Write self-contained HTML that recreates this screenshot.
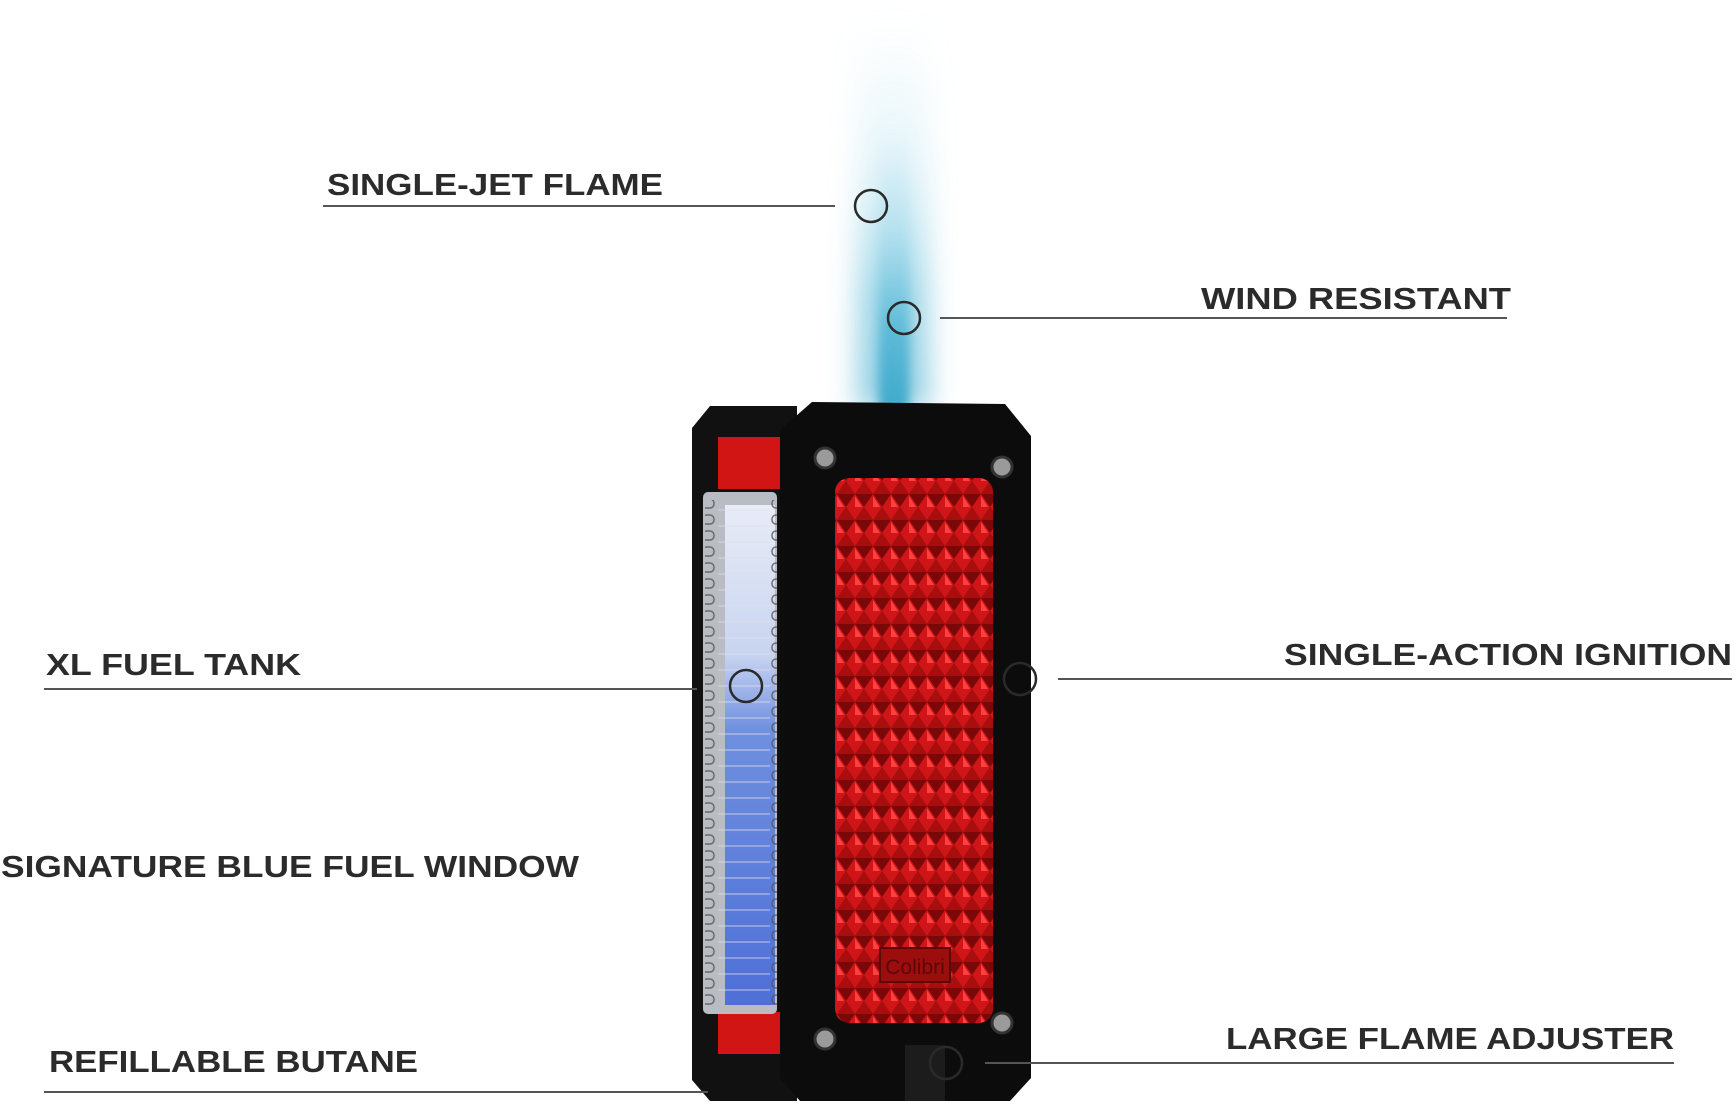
<!DOCTYPE html>
<html><head><meta charset="utf-8"><style>
html,body{margin:0;padding:0;background:#fff;width:1735px;height:1104px;overflow:hidden}
svg{display:block}
text{font-family:"Liberation Sans",sans-serif;font-weight:bold;fill:#2b2b2b;font-size:31px}
</style></head><body>
<svg width="1735" height="1104" viewBox="0 0 1735 1104">
<defs>
<filter id="b1" x="-200%" y="-20%" width="500%" height="140%"><feGaussianBlur stdDeviation="14"/></filter>
<filter id="b2" x="-200%" y="-20%" width="500%" height="140%"><feGaussianBlur stdDeviation="5"/></filter>
<linearGradient id="fl" x1="0" y1="0" x2="0" y2="1">
<stop offset="0" stop-color="#bfe6f2" stop-opacity="0"/>
<stop offset="0.35" stop-color="#a8dcec" stop-opacity="0.5"/>
<stop offset="0.7" stop-color="#5fbcd8"/>
<stop offset="1" stop-color="#3fa9cc"/>
</linearGradient>
<pattern id="dia" width="18" height="26" patternUnits="userSpaceOnUse">
<rect width="18" height="26" fill="#7a0808"/>
<path d="M9 0 L18 13 L9 26 L0 13Z" fill="#cf1517"/>
<path d="M9 2 L16 13 L9 13Z" fill="#ff4040"/>
<path d="M0 13 L9 26 L0 26Z M18 13 L18 26 L9 26Z" fill="#a80e0e"/>
</pattern>
<pattern id="win" width="70" height="16" patternUnits="userSpaceOnUse">
<rect x="2" y="3" width="12" height="9" rx="4" fill="none" stroke="#555" stroke-width="1.5"/>
<line x1="18" y1="14" x2="70" y2="14" stroke="#dde" stroke-width="1"/>
</pattern>
<linearGradient id="wg" x1="0" y1="0" x2="0" y2="1">
<stop offset="0" stop-color="#e8ecf6"/><stop offset="0.3" stop-color="#c8d4f0"/>
<stop offset="0.45" stop-color="#6f8fe0"/><stop offset="1" stop-color="#4f6fd8"/>
</linearGradient>
</defs>

<!-- flame -->
<rect x="858" y="20" width="70" height="390" fill="url(#fl)" filter="url(#b1)" opacity="0.6"/>
<rect x="879" y="130" width="30" height="280" fill="url(#fl)" filter="url(#b2)"/>

<!-- lighter back body -->
<path d="M710 406 L797 406 L797 1101 L710 1101 L692 1080 L692 428Z" fill="#111"/>
<rect x="718" y="437" width="70" height="52" fill="#d11414"/>
<rect x="718" y="1012" width="70" height="42" fill="#d11414"/>
<rect x="703" y="492" width="74" height="522" rx="5" fill="#b9bcc2"/>
<rect x="725" y="505" width="50" height="500" fill="url(#wg)"/>
<rect x="705" y="500" width="72" height="505" fill="url(#win)" opacity="0.8"/>

<!-- front plate -->
<path d="M812 402 L1005 404 L1031 436 L1031 1078 L1010 1101 L800 1101 L780 1078 L780 430Z" fill="#0c0c0c"/>
<rect x="835" y="478" width="158" height="545" rx="14" fill="url(#dia)"/>
<rect x="880" y="948" width="70" height="34" fill="#9c0e0e" stroke="#5a0808" stroke-width="2"/>
<text x="915" y="974" text-anchor="middle" style="font-size:21px;font-weight:normal;fill:#5a0808">Colibri</text>
<g fill="#9a9a9a" stroke="#333" stroke-width="3">
<circle cx="825" cy="458" r="10"/><circle cx="1002" cy="467" r="10"/>
<circle cx="825" cy="1039" r="10"/><circle cx="1002" cy="1023" r="10"/>
</g>
<rect x="905" y="1045" width="40" height="56" fill="#1c1c1c"/>

<!-- lines -->
<g stroke="#555" stroke-width="2" fill="none">
<line x1="323" y1="206" x2="835" y2="206"/>
<line x1="940" y1="318" x2="1507" y2="318"/>
<line x1="44" y1="689" x2="697" y2="689"/>
<line x1="1058" y1="679" x2="1732" y2="679"/>
<line x1="44" y1="1092" x2="708" y2="1092"/>
<line x1="985" y1="1063" x2="1674" y2="1063"/>
</g>
<g stroke="#2a2a2a" stroke-width="2.5" fill="none">
<circle cx="871" cy="206" r="16"/>
<circle cx="904" cy="318" r="16"/>
<circle cx="746" cy="686" r="16"/>
<circle cx="1020" cy="679" r="16"/>
<circle cx="946" cy="1063" r="16"/>
</g>

<!-- labels -->
<text x="327" y="195" textLength="336" lengthAdjust="spacingAndGlyphs">SINGLE-JET FLAME</text>
<text x="1201" y="309" textLength="310" lengthAdjust="spacingAndGlyphs">WIND RESISTANT</text>
<text x="46" y="675" textLength="255" lengthAdjust="spacingAndGlyphs">XL FUEL TANK</text>
<text x="1284" y="665" textLength="448" lengthAdjust="spacingAndGlyphs">SINGLE-ACTION IGNITION</text>
<text x="1" y="877" textLength="578" lengthAdjust="spacingAndGlyphs">SIGNATURE BLUE FUEL WINDOW</text>
<text x="49" y="1072" textLength="369" lengthAdjust="spacingAndGlyphs">REFILLABLE BUTANE</text>
<text x="1226" y="1049" textLength="448" lengthAdjust="spacingAndGlyphs">LARGE FLAME ADJUSTER</text>
</svg>
</body></html>
